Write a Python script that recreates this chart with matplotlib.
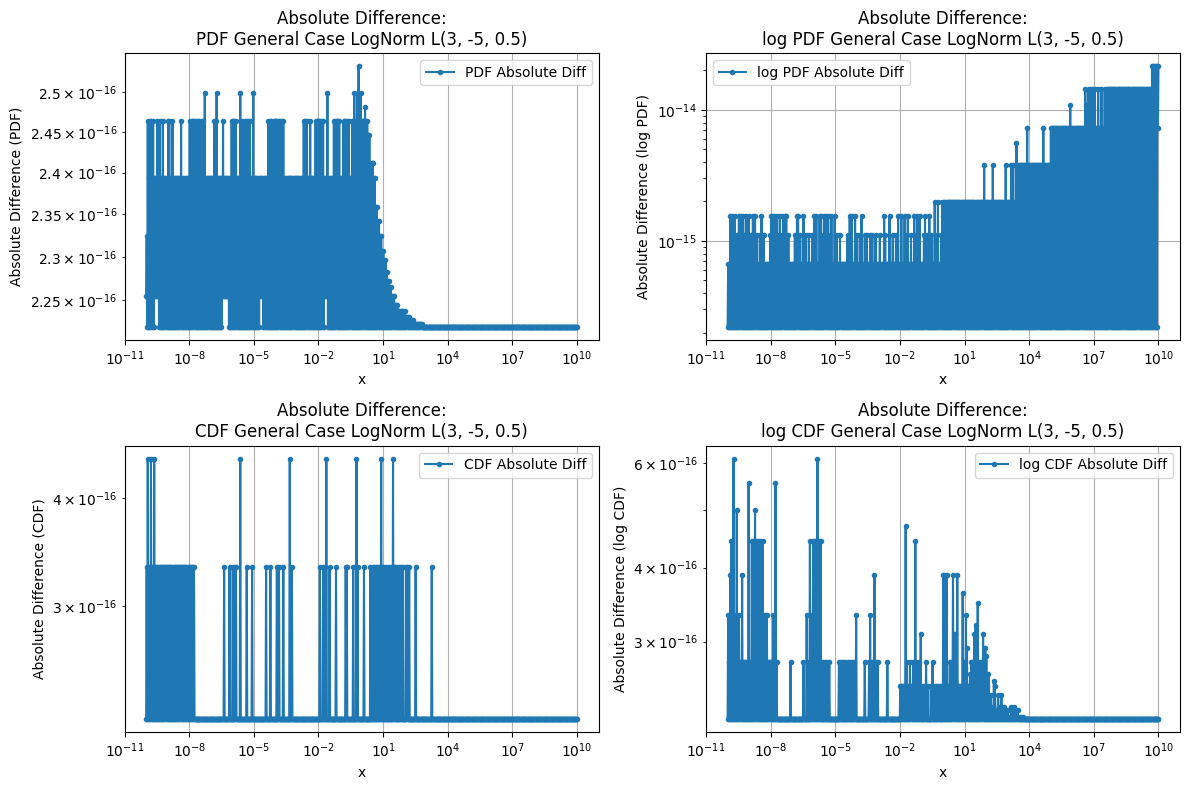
import numpy as np
import matplotlib
matplotlib.use('Agg')
import matplotlib.pyplot as plt

EPS = 2.220446049250313e-16
ULP58 = 2.0 ** -58

# x grid: 1e-10 .. 1e10; one row of codes per decade, 20 samples per row.
x_exp_lo, x_exp_hi, per_decade = -10, 10, 20
FLAT = "00000 00000 00000 00000"

# --- PDF abs diff: eps + k * 2^-58
pdf_levels = {str(k): k for k in range(10)}
pdf_levels.update(a=0.1, b=0.2, c=0.3, d=0.5, e=0.7, p=1.3, f=1.5, n=1.8, q=2.2,
                  g=2.5, h=3.5, j=5.5, k=6.5, l=7.5)
pdf_hi = [
    "37577 57555 75755 75545",  # 1e-10
    "77557 55555 55755 45555",
    "75777 57577 57758 55555",
    "55577 85555 57555 55557",
    "77575 55857 57575 77558",
    "55555 55545 55575 77577",
    "77577 57755 55555 54555",
    "55555 57757 55755 55777",
    "77577 55585 55557 57777",
    "55577 57575 57787 78978",  # 1e-1
    "777l7 7kk5j j5544 hh33g",  # 1e0
    "gqqnf fpp11 1eeed ddddc",
    "dcccc bbbba aaaaa aa000",
] + [FLAT] * 7 + ["0"]
pdf_lo = [
    "10000 00011 11000 00000",
    FLAT,
    FLAT,
    "00000 00000 01111 11000",
    FLAT,
    "00000 01110 00000 00000",
    FLAT,
    FLAT,
    "00000 01110 00000 00000",
] + [FLAT] * 11 + ["0"]

# --- log PDF abs diff: multiples of eps
logpdf_levels = {'0': 1, '1': 3, '2': 5, '3': 7, '4': 9, '5': 17, '6': 25,
                 '7': 33, '8': 49, '9': 65, 'x': 97}
logpdf_hi = [
    "11313 13121 31313 21313",
    "12131 31211 23121 11112",
    "31331 31231 23133 12111",
    "11213 31211 31211 21121",
    "31311 33123 13131 23113",
    "12112 11111 12131 31131",
    "21123 11212 11212 11211",
    "12111 32111 31121 12131",
    "13113 12311 21132 13131",
    "11231 21312 11412 41124",
    "34444 44444 44444 44444",
    "44444 44444 44444 44454",
    "44444 45444 44444 44454",
    "44454 54464 55555 55575",
    "55555 55555 55575 55555",
    "77777 77777 77777 77787",
    "77777 77777 77987 97979",
    "79779 77977 97999 99999",
    "99999 99999 99999 99999",
    "99999 99999 9999x xx9xx",
    "x",
]
logpdf_lo = [FLAT] * 20 + ["7"]

# --- CDF abs diff: multiples of eps
cdf_levels = {'0': 1.0, '1': 1.5, '2': 2.0}
cdf_hi = [
    "12112 11211 11111 11111",
    "11111 11111 11111 11111",
    "11111 00000 00000 00000",
    "00000 00000 00100 00100",
    "10110 00200 00010 00010",
    "00000 00000 01000 10000",
    "01010 00100 00020 10000",
    FLAT,
    "01001 01200 10000 01000",
    "00000 11000 00100 21000",
    "00100 00010 11011 01121",
    "10110 10102 11010 11010",
    "01101 00000 10000 00000",
    "00000 10000 00000 00000",
] + [FLAT] * 6 + ["0"]
cdf_lo = [FLAT] * 20 + ["0"]

# --- log CDF abs diff: multiples of eps
logcdf_levels = {'0': 1.0, '1': 1.25, '2': 1.5, '3': 1.75, '4': 2.0, '5': 2.25,
                 '6': 2.5, '7': 2.75, 'a': 1.01, 'b': 1.035, 'c': 1.05, 'd': 1.10,
                 'e': 1.135, 'f': 1.16, 'g': 1.19, 'h': 1.32, 'i': 1.39, 'j': 1.44,
                 'k': 1.57, 'l': 1.63, 'm': 2.12, 'n': 1.28}
logcdf_hi = [
    "21341 72151 21131 11116",
    "11424 54141 41412 12111",
    "11216 10000 00000 00010",
    "00000 00000 10020 14024",
    "24174 14010 10101 00000",
    "00010 10101 01010 10102",
    "00000 00100 01201 03101",
    "00000 00010 00000 00000",
    "eeeee m1ee1 ee1e4 1e1ei",
    "0e0e1 0e00e 10ee0 e0e0e",
    "33e3e e1e13 1ie3e eeel1",
    "e2hee g11ei jek1e 1dieh",
    "negcd acfe0 bdacd acaba",
    "ba0ca bcabb a0a0a 00000",
] + [FLAT] * 6 + ["0"]
logcdf_lo = [FLAT] * 20 + ["0"]


def decode(rows, levels):
    codes = "".join(rows).replace(" ", "")
    return np.array([levels[c] for c in codes], dtype=float)


def series(hi_rows, lo_rows, levels, unit, offset=0.0):
    hi = decode(hi_rows, levels)
    lo = decode(lo_rows, levels)
    if len(hi) != n_samples or len(lo) != n_samples:
        raise ValueError(f'{len(hi)}/{len(lo)} samples, expected {n_samples}')
    return offset + np.column_stack([lo, hi]).ravel() * unit


n_samples = (x_exp_hi - x_exp_lo) * per_decade + 1
x = np.logspace(x_exp_lo, x_exp_hi, 2 * n_samples)

pdf_diff = series(pdf_hi, pdf_lo, pdf_levels, ULP58, EPS)
logpdf_diff = series(logpdf_hi, logpdf_lo, logpdf_levels, EPS)
cdf_diff = series(cdf_hi, cdf_lo, cdf_levels, EPS)
logcdf_diff = series(logcdf_hi, logcdf_lo, logcdf_levels, EPS)

panels = [
    (pdf_diff, 'PDF', 'PDF Absolute Diff', 'upper right'),
    (logpdf_diff, 'log PDF', 'log PDF Absolute Diff', 'upper left'),
    (cdf_diff, 'CDF', 'CDF Absolute Diff', 'upper right'),
    (logcdf_diff, 'log CDF', 'log CDF Absolute Diff', 'upper right'),
]

fig, axs = plt.subplots(2, 2, figsize=(12, 8), dpi=100)
for ax, (y, what, label, loc) in zip(axs.flat, panels):
    ax.plot(x, y, marker='.', label=label)
    ax.set_xscale('log')
    ax.set_yscale('log')
    ax.set_title(f'Absolute Difference:\n{what} General Case LogNorm L(3, -5, 0.5)')
    ax.set_xlabel('x')
    ax.set_ylabel(f'Absolute Difference ({what})')
    ax.legend(loc=loc)
    ax.grid(True)

plt.tight_layout()
plt.savefig('out.png', dpi=100, bbox_inches='tight')
